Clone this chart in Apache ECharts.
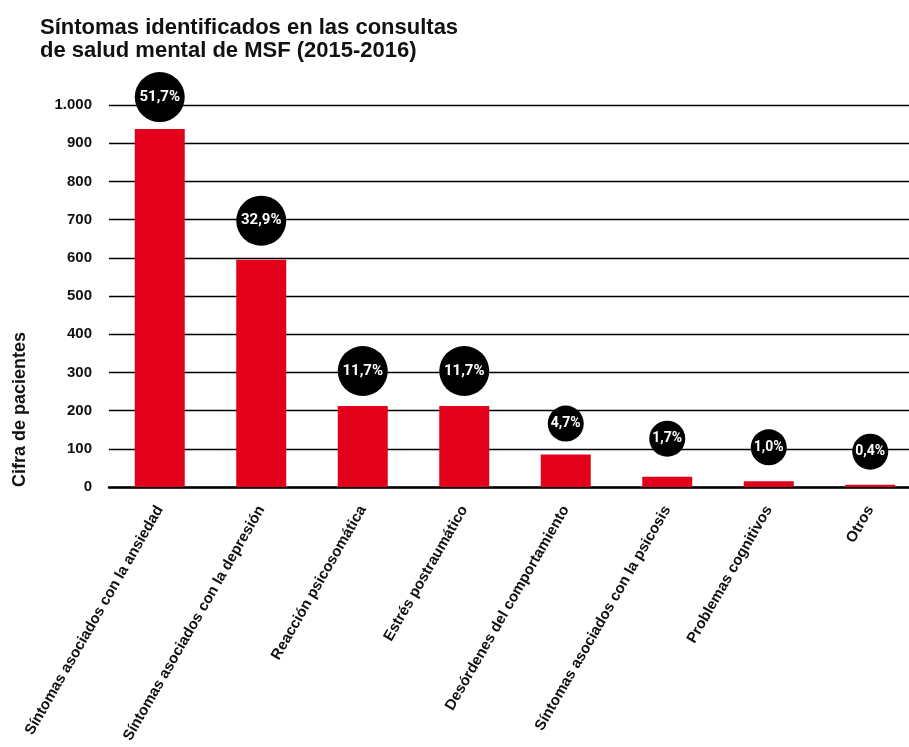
<!DOCTYPE html>
<html>
<head>
<meta charset="utf-8">
<script src="https://cdn.jsdelivr.net/npm/echarts@6/dist/echarts.min.js"></script>
<style>
  html, body { margin: 0; padding: 0; background: #fff; overflow: hidden; }
  /* the plot runs a little past the right edge of the window */
  #chart { width: 921px; height: 747px; }
</style>
</head>
<body>
<div id="chart"></div>
<script>
// Síntomas y número de pacientes
const categories = [
  'Síntomas asociados con la ansiedad',
  'Síntomas asociados con la depresión',
  'Reacción psicosomática',
  'Estrés postraumático',
  'Desórdenes del comportamiento',
  'Síntomas asociados con la psicosis',
  'Problemas cognitivos',
  'Otros'
];
const patients = [937, 595, 212, 212, 85, 27, 15, 6];
const shares = ['51,7%', '32,9%', '11,7%', '11,7%', '4,7%', '1,7%', '1,0%', '0,4%'];
const yTickLabels = ['0', '100', '200', '300', '400', '500', '600', '700', '800', '900', '1.000'];

// Look of the percentage bubbles above each bar
const bubbleSize = ['lg', 'lg', 'lg', 'lg', 'sm', 'sm', 'sm', 'sm'];
const bubbleGap = [7, 14, 10, 10, 13, 20, 16, 15];

const chart = echarts.init(document.getElementById('chart'), null, { renderer: 'canvas' });

const bubbleText = {
  color: '#fff',
  fontFamily: 'Roboto',
  fontWeight: 'bold',
  fontSize: 15,
  align: 'center',
  verticalAlign: 'middle',
  backgroundColor: '#000'
};

chart.setOption({
  animation: false,
  backgroundColor: '#fff',
  title: {
    text: 'Síntomas identificados en las consultas\nde salud mental de MSF (2015-2016)',
    left: 40,
    top: 16,
    padding: 0,
    textStyle: {
      fontFamily: 'Liberation Sans',
      fontWeight: 'bold',
      fontSize: 22,
      lineHeight: 23,
      color: '#111'
    }
  },
  graphic: [{
    type: 'text',
    x: 20,
    y: 487,
    rotation: Math.PI / 2,
    style: {
      text: 'Cifra de pacientes',
      fontFamily: 'Liberation Sans',
      fontWeight: 'bold',
      fontSize: 18,
      fill: '#111',
      textAlign: 'left',
      textVerticalAlign: 'middle'
    }
  }],
  grid: {
    left: 109,
    right: 0,
    top: 105,
    bottom: 260,
    containLabel: false
  },
  xAxis: {
    type: 'category',
    data: categories,
    axisTick: { show: false },
    axisLine: { show: true, lineStyle: { color: '#000', width: 2.5 } },
    axisLabel: {
      interval: 0,
      rotate: 60,
      margin: 20,
      color: '#111',
      fontFamily: 'Liberation Sans',
      fontWeight: 'bold',
      fontSize: 15
    }
  },
  yAxis: {
    type: 'value',
    min: 0,
    max: 1000,
    interval: 100,
    axisLine: { show: false },
    axisTick: { show: false },
    splitLine: { show: true, lineStyle: { color: '#000', width: 1.4 } },
    axisLabel: {
      margin: 17,
      color: '#111',
      fontFamily: 'Liberation Sans',
      fontWeight: 'bold',
      fontSize: 15,
      formatter: function (v) { return yTickLabels[Math.round(v / 100)]; }
    }
  },
  series: [{
    type: 'bar',
    barWidth: 50,
    itemStyle: { color: '#e3001b' },
    data: patients.map(function (v, i) {
      return {
        value: v,
        label: {
          show: true,
          position: 'top',
          distance: bubbleGap[i],
          formatter: '{' + bubbleSize[i] + '|' + shares[i] + '}',
          rich: {
            lg: Object.assign({}, bubbleText, { width: 50, height: 50, lineHeight: 50, borderRadius: 25 }),
            sm: Object.assign({}, bubbleText, { width: 36, height: 36, lineHeight: 36, borderRadius: 18, fontSize: 14 })
          }
        }
      };
    })
  }]
});
</script>
</body>
</html>
